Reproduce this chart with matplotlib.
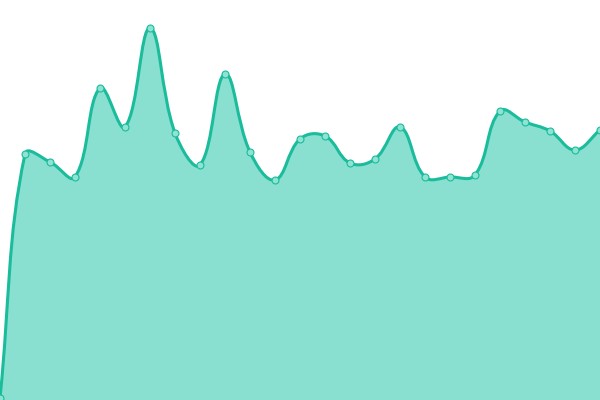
import matplotlib
matplotlib.use("Agg")
import matplotlib.pyplot as plt
from matplotlib.path import Path
from matplotlib.patches import PathPatch
import numpy as np

# data (value 0 at bottom, 400 at top)
labels = list(range(25))
values = [2, 246, 238, 223, 312, 273, 372, 267, 235, 326, 248, 220, 261, 264,
          237, 241, 273, 223, 223, 225, 289, 278, 269, 250, 270]

LINE = "#1abc9c"
FILL = "#8ae0d0"

fig = plt.figure(figsize=(6, 4), dpi=100)
ax = fig.add_axes([0, 0, 1, 1])
ax.set_xlim(0, 24)
ax.set_ylim(0, 400)
ax.axis("off")

# Chart.js-like spline (tension 0.4), computed in display pixels
xs = np.array(labels, dtype=float)
ys = np.array(values, dtype=float)
pts = ax.transData.transform(np.column_stack([xs, ys]))
inv = ax.transData.inverted()
t = 0.4
n = len(pts)
cps = []
for i in range(n):
    prev = pts[i - 1] if i > 0 else pts[i]
    cur = pts[i]
    nxt = pts[i + 1] if i < n - 1 else pts[i]
    d01 = np.hypot(*(cur - prev))
    d12 = np.hypot(*(nxt - cur))
    tot = d01 + d12
    s01 = d01 / tot if tot else 0
    s12 = d12 / tot if tot else 0
    fa = t * s01
    fb = t * s12
    c1 = cur - fa * (nxt - prev)
    c2 = cur + fb * (nxt - prev)
    c1 = np.clip(c1, [0, 0], [600, 400])
    c2 = np.clip(c2, [0, 0], [600, 400])
    cps.append((c1, c2))

verts = [pts[0]]
codes = [Path.MOVETO]
for i in range(n - 1):
    verts += [cps[i][1], cps[i + 1][0], pts[i + 1]]
    codes += [Path.CURVE4] * 3
verts_d = inv.transform(np.array(verts))

line_path = Path(verts_d, codes)
fill_verts = np.vstack([verts_d, [[xs[-1], 0], [xs[0], 0], verts_d[0]]])
fill_codes = codes + [Path.LINETO, Path.LINETO, Path.CLOSEPOLY]
ax.add_patch(PathPatch(Path(fill_verts, fill_codes), facecolor=FILL, edgecolor="none", zorder=1))
ax.add_patch(PathPatch(line_path, facecolor="none", edgecolor=LINE, lw=2.2, zorder=2, clip_on=False))
ax.plot(xs, ys, "o", ms=5.0, mfc="#8fe3d2", mec=LINE, mew=0.8, zorder=3, clip_on=False)

fig.savefig("out.png", dpi=100)
